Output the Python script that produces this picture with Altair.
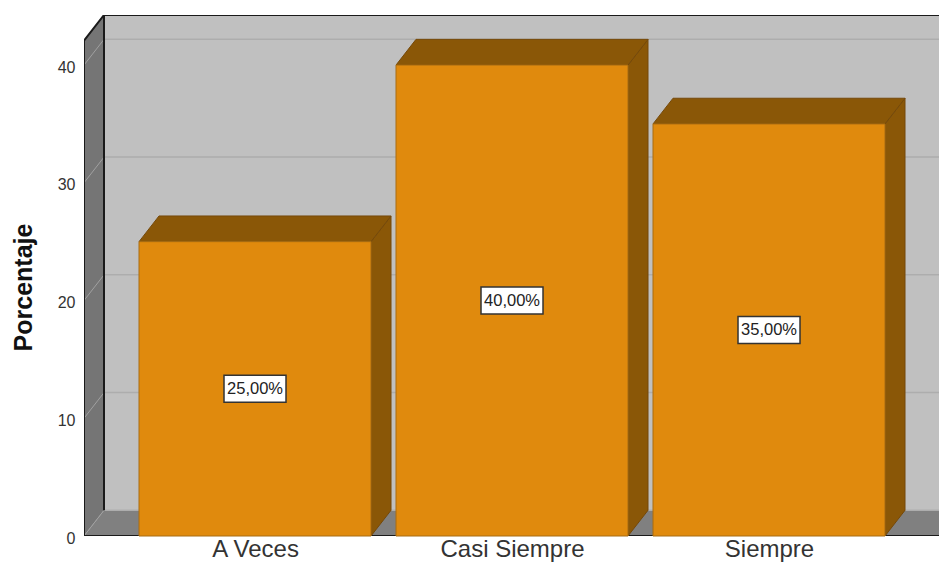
import altair as alt
import pandas as pd

categorias = ["A Veces", "Casi Siempre", "Siempre"]
porcentajes = [25, 40, 35]
etiquetas = ["25,00%", "40,00%", "35,00%"]
marcas_y = [0, 10, 20, 30, 40]

# 3D geometry in data units
PX_X, PX_Y = 257.0, 11.775
X0 = -0.6654
X_FLOOR_END = X0 + 858 / PX_X
DX = 20 / PX_X
DY = 25.7 / PX_Y
HALF = 116 / PX_X
Y_TOP = 42.07
XMAX = X0 + 855 / PX_X
YMAX = Y_TOP + DY

xs = alt.Scale(domain=[X0, XMAX], nice=False, zero=False)
ys = alt.Scale(domain=[0, YMAX], nice=False, zero=False)
AY = alt.Axis(
    values=marcas_y, domain=False, ticks=False, grid=False, labelPadding=9, labelOffset=2,
    labelFont="Liberation Sans", labelFontSize=16, labelColor="#333333",
    title="Porcentaje", titleFont="Liberation Sans", titleFontSize=25,
    titleFontWeight="bold", titleColor="#111111", titleX=-53, titleY=272,
    titleBaseline="alphabetic",
)
AX = alt.Axis(
    values=list(range(len(categorias))), domain=False, ticks=False, grid=False,
    labelExpr="['A Veces','Casi Siempre','Siempre'][datum.value]",
    labelFont="Liberation Sans", labelFontSize=24, labelColor="#333333",
    labelPadding=1, title=None, labelOverlap=False, labelFlush=False,
)


def fx(name):
    return alt.X(name + ":Q", scale=xs, axis=AX)


def fy(name):
    return alt.Y(name + ":Q", scale=ys, axis=AY)


def area(rows, fill, stroke=None, width=1):
    df = pd.DataFrame(rows, columns=["x", "y", "y2", "k"])
    kw = {"stroke": stroke, "strokeWidth": width} if stroke else {}
    return alt.Chart(df).mark_area(fill=fill, opacity=1, clip=True, **kw).encode(
        x=fx("x"), y=fy("y"), y2="y2:Q", detail="k:N"
    )


def line(rows, color, width):
    df = pd.DataFrame(rows, columns=["x", "y", "k"])
    return alt.Chart(df).mark_line(color=color, strokeWidth=width, clip=True).encode(
        x=fx("x"), y=fy("y"), detail="k:N"
    )


wall = area([[X0 + DX, DY, YMAX, 0], [XMAX + DX, DY, YMAX, 0]], "#C0C0C0")
left = area([[X0, 0, Y_TOP, 0], [X0 + DX, DY, YMAX, 0]], "#757575")
floor = area(
    [[X0, 0, 0, 0], [X0 + DX, 0, DY, 0], [X_FLOOR_END, 0, DY, 0], [X_FLOOR_END + DX, DY, DY, 0]],
    "#808080",
)
grid_back = line(
    [r for t in marcas_y for r in ([X0 + DX, t + DY, t], [XMAX, t + DY, t])], "#ADADAD", 1.5
)
grid_left = line(
    [r for t in marcas_y for r in ([X0, t, t], [X0 + DX, t + DY, t])], "#A0A0A0", 1
)
edges_df = pd.DataFrame(
    [
        [X0, 0, "a", 0], [X0, Y_TOP, "a", 1], [X0 + DX, YMAX, "a", 2], [XMAX, YMAX, "a", 3],
        [X0 + DX, DY, "b", 0], [X0 + DX, YMAX, "b", 1],
        [X0, 0, "c", 0], [X_FLOOR_END, 0, "c", 1], [X_FLOOR_END + DX, DY, "c", 2],
    ],
    columns=["x", "y", "k", "o"],
)
edges = alt.Chart(edges_df).mark_line(color="#1A1A1A", strokeWidth=2, clip=True).encode(
    x=fx("x"), y=fy("y"), detail="k:N", order="o:Q"
)

capas = [wall, left, floor, grid_back, grid_left, edges]
for i, v in enumerate(porcentajes):
    a, b = i - HALF, i + HALF
    capas.append(area([[b, 0, v, i], [b + DX, DY, v + DY, i]], "#8A5707", "#75490A"))
    capas.append(area(
        [[a, v, v, i], [a + DX, v, v + DY, i], [b, v, v + DY, i], [b + DX, v + DY, v + DY, i]],
        "#8A5707", "#75490A"))

front = pd.DataFrame({
    "cat": categorias, "v": porcentajes, "lab": etiquetas,
    "a": [i - HALF for i in range(3)], "b": [i + HALF for i in range(3)],
    "c": list(range(3)),
    "m": [v / 2 for v in porcentajes],
    "z": [0, 0, 0],
})
front["bx0"] = front["c"] - 31 / PX_X
front["bx1"] = front["c"] + 31 / PX_X
front["by0"] = front["m"] - 13.5 / PX_Y
front["by1"] = front["m"] + 13.5 / PX_Y

capas.append(alt.Chart(front).mark_rect(fill="#E08A0D", stroke="#A86C12", strokeWidth=1).encode(
    x=fx("a"), x2="b:Q", y=fy("v"), y2="z:Q",
))
capas.append(alt.Chart(front).mark_rect(fill="white", stroke="#333333", strokeWidth=1.5).encode(
    x=fx("bx0"), x2="bx1:Q", y=fy("by0"), y2="by1:Q",
))
capas.append(alt.Chart(front).mark_text(font="Liberation Sans", fontSize=16.5, color="#222222").encode(
    x=fx("c"), y=fy("m"), text="lab:N",
))

chart = alt.layer(*capas).properties(
    width=855, height=521,
    padding={"left": 76, "top": 7, "right": 0, "bottom": 26},
    autosize=alt.AutoSizeParams(type="none"),
    background="white",
).configure_view(stroke=None)

chart.save("out.html", embed_options={"renderer": "svg", "actions": False})
